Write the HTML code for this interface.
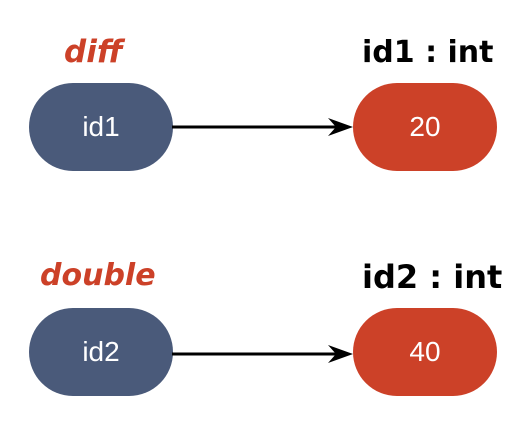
<!DOCTYPE html>
<html><head><style>
body{margin:0;width:526px;height:430px;background:#fff;position:relative;font-family:"Liberation Sans",sans-serif;overflow:hidden}
.n{position:absolute;width:144px;height:88px;border-radius:44px;color:#fff;font-size:28px;display:flex;align-items:center;justify-content:center}
.b{background:#4a5a7a}.r{background:#cc4128}
.l{position:absolute;font-family:"DejaVu Sans",sans-serif;font-weight:bold;font-size:30px;line-height:1;white-space:nowrap}
</style></head><body>
<div class="l" style="left:64px;top:37px;color:#cc4128;font-style:italic;font-size:31px">diff</div>
<div class="l" style="left:362px;top:38px;color:#000;font-size:30px">id1 : int</div>
<div class="n b" style="left:29px;top:83px">id1</div>
<div class="n r" style="left:353px;top:83px">20</div>
<div class="l" style="left:40px;top:261px;color:#cc4128;font-style:italic;font-size:30px">double</div>
<div class="l" style="left:362px;top:261px;color:#000;font-size:32px">id2 : int</div>
<div class="n b" style="left:29px;top:308px">id2</div>
<div class="n r" style="left:353px;top:308px">40</div>
<svg width="526" height="430" style="position:absolute;left:0;top:0">
<line x1="172" y1="127" x2="345" y2="127" stroke="#000" stroke-width="3"/>
<polygon points="353,127 328,118 336,127 328,136" fill="#000"/>
<line x1="172" y1="354" x2="345" y2="354" stroke="#000" stroke-width="3"/>
<polygon points="353,354 328,345 336,354 328,363" fill="#000"/>
</svg>
</body></html>
